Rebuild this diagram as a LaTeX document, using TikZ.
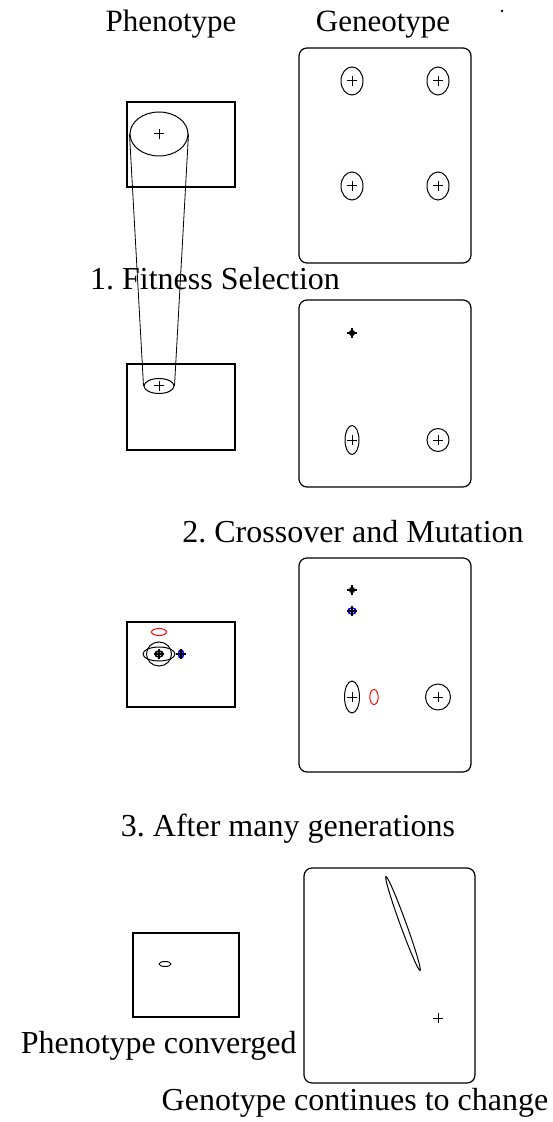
\documentclass[tikz,border=0pt]{standalone}
\usepackage{fontspec}
\setmainfont{Liberation Serif}
\usetikzlibrary{positioning, shapes.geometric}
\frenchspacing

\tikzset{
  phenobox/.style={draw, line width=0.6pt},
  genobox/.style={draw, line width=0.6pt, rounded corners=4pt},
  blob/.style={ellipse, draw, inner sep=0pt, line width=0.5pt},
  title/.style={font=\fontsize{15.5}{18}\selectfont, anchor=base, inner sep=0pt},
  caption/.style={font=\fontsize{16}{19}\selectfont, anchor=base, inner sep=0pt},
  plusmark/.pic={\draw[line width=0.5pt] (-5,0) -- (5,0) (0,-5) -- (0,5);},
  aimmark/.pic={\draw[line width=0.6pt] (-5,0) -- (5,0) (0,-5) -- (0,5);
    \draw[line width=0.6pt] (0,0) circle [radius=2.5];},
}

\begin{document}
\begin{tikzpicture}[x=0.5pt, y=-0.5pt]
    \useasboundingbox (0,0) rectangle (552,1122);

    % column titles
    \node[title] (phtitle) at (171,32) {Phenotype};
    \node[title] (getitle) at (383,32) {Geneotype};
    \fill (502,11) circle [radius=1.3];

    % --- start population
    \draw[phenobox] (127,102) rectangle (235,187);
    \node[blob, minimum width=29pt, minimum height=22pt] (p1) at (159,134) {};
    \pic at (p1.center) {plusmark};
    \draw[genobox] (299,48) rectangle (471,263);
    \foreach \gx/\gy [count=\i] in {352/81, 438/81, 352/186, 438/186} {
      \node[blob, minimum width=11pt, minimum height=14pt] (ga\i) at (\gx,\gy) {};
      \pic at (ga\i.center) {plusmark};
    }
    \node[caption] (step1) at (215,290) {1. Fitness Selection};

    % --- after selection
    \draw[phenobox] (127,364) rectangle (235,450);
    \node[blob, minimum width=15pt, minimum height=7.5pt] (p2) at (159,386) {};
    \pic at (p2.center) {plusmark};
    \draw (p1.west) -- (p2.west);
    \draw (p1.east) -- (p2.east);
    \draw[genobox] (299,300) rectangle (471,487);
    \pic at (352,333) {aimmark};
    \node[blob, minimum width=7pt, minimum height=14.5pt] (gb1) at (352,440) {};
    \pic at (gb1.center) {plusmark};
    \node[blob, minimum width=11pt, minimum height=11.5pt] (gb2) at (438,440) {};
    \pic at (gb2.center) {plusmark};
    \node[caption] (step2) at (353,542) {2. Crossover and Mutation};

    % --- offspring
    \draw[phenobox] (127,622) rectangle (235,707);
    \node[blob, draw=red, minimum width=7.5pt, minimum height=3.5pt] (p3red) at (159,632) {};
    \node[blob, minimum width=12.5pt, minimum height=12pt] (p3a) at (159,654) {};
    \node[blob, minimum width=16pt, minimum height=7pt] (p3b) at (159,654) {};
    \node[blob, line width=0.8pt, minimum width=4pt, minimum height=3pt] (p3c) at (159,654) {};
    \draw[line width=1pt] (154,654) -- (164,654) (159,649) -- (159,659);
    \node[blob, draw=blue, line width=0.8pt, minimum width=2.5pt, minimum height=4pt] (p3blue) at (181,654) {};
    \draw[line width=0.6pt] (176,654) -- (186,654) (181,649) -- (181,659);
    \draw[genobox] (299,558) rectangle (471,772);
    \pic at (352,590) {aimmark};
    \node[blob, draw=blue, line width=0.8pt, minimum width=4pt, minimum height=3pt] (gcblue) at (352,611) {};
    \draw[line width=0.6pt] (347,611) -- (357,611) (352,606) -- (352,616);
    \node[blob, minimum width=7.5pt, minimum height=16pt] (gc1) at (352,697) {};
    \pic at (gc1.center) {plusmark};
    \node[blob, draw=red, minimum width=4.2pt, minimum height=7.5pt] (gcred) at (374,697) {};
    \node[blob, minimum width=12.5pt, minimum height=13pt] (gc2) at (438,697) {};
    \pic at (gc2.center) {plusmark};
    \node[caption] (step3) at (288,836) {3. After many generations};

    % --- converged
    \draw[phenobox] (133,933) rectangle (239,1017);
    \node[blob, minimum width=6pt, minimum height=2.5pt] (p4) at (165,964) {};
    \draw[genobox] (304,868) rectangle (475,1083);
    \coordinate (gdrift) at (403,923.5);
    \draw[line width=0.5pt, rotate around={-70:(gdrift)}] (gdrift) ellipse [x radius=50, y radius=3];
    \pic at (438,1018) {plusmark};
    \node[caption, anchor=base east] (phdone) at (297,1053) {Phenotype converged};
    \node[caption] (gedone) at (355,1110) {Genotype continues to change};
\end{tikzpicture}
\end{document}
